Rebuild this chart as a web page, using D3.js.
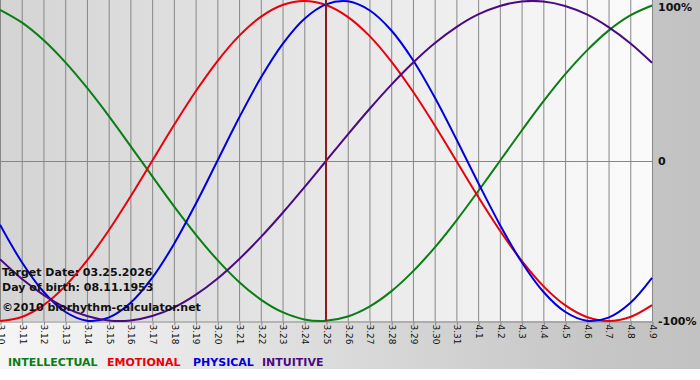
<!DOCTYPE html>
<html><head><meta charset="utf-8">
<script src="https://cdn.jsdelivr.net/npm/d3@7"></script>
<style>html,body{margin:0;padding:0;background:#fff;}svg{display:block;}</style>
</head><body>
<svg id="chart" width="700" height="380"></svg>
<script>
const dayLabels = ["3.10","3.11","3.12","3.13","3.14","3.15","3.16","3.17","3.18","3.19","3.20","3.21","3.22","3.23","3.24","3.25","3.26","3.27","3.28","3.29","3.30","3.31","4.1","4.2","4.3","4.4","4.5","4.6","4.7","4.8","4.9"];
const intellectual = [0.945,0.866,0.756,0.618,0.458,0.282,0.095,-0.095,-0.282,-0.458,-0.618,-0.756,-0.866,-0.945,-0.990,-0.999,-0.972,-0.910,-0.815,-0.690,-0.541,-0.372,-0.189,0,0.189,0.372,0.541,0.690,0.815,0.910,0.972];
const emotional = [-1,-0.975,-0.901,-0.782,-0.623,-0.434,-0.223,0,0.223,0.434,0.623,0.782,0.901,0.975,1,0.975,0.901,0.782,0.623,0.434,0.223,0,-0.223,-0.434,-0.623,-0.782,-0.901,-0.975,-1,-0.975,-0.901];
const physical = [-0.398,-0.631,-0.817,-0.942,-0.998,-0.979,-0.888,-0.731,-0.520,-0.270,0,0.270,0.520,0.731,0.888,0.979,0.998,0.942,0.817,0.631,0.398,0.136,-0.136,-0.398,-0.631,-0.817,-0.942,-0.998,-0.979,-0.888,-0.731];
const intuitive = [-0.614,-0.736,-0.837,-0.916,-0.969,-0.997,-0.997,-0.969,-0.916,-0.837,-0.736,-0.614,-0.476,-0.325,-0.165,0,0.165,0.325,0.476,0.614,0.736,0.837,0.916,0.969,0.997,0.997,0.969,0.916,0.837,0.736,0.614];
const yTickValues = [1,0,-1];
const yTickLabels = ["100%","0","-100%"];
const targetLabel = "3.25";
const infoLines = ["Target Date: 03.25.2026","Day of birth: 08.11.1953","©2010 biorhythm-calculator.net"];
const seriesNames = ["INTELLECTUAL","EMOTIONAL","PHYSICAL","INTUITIVE"];

const colors = {INTELLECTUAL:"#0a7d14", EMOTIONAL:"#e8000b", PHYSICAL:"#0000dc", INTUITIVE:"#4b0a82"};
const series = [
  {name:"INTELLECTUAL", values:intellectual},
  {name:"EMOTIONAL", values:emotional},
  {name:"PHYSICAL", values:physical},
  {name:"INTUITIVE", values:intuitive}
];

const svg = d3.select("#chart");
const W = 700, PW = 652, PT = 0, PB = 321;
const defs = svg.append("defs");
const g1 = defs.append("linearGradient").attr("id","outerG").attr("x1","0").attr("x2","1").attr("y1","0").attr("y2","0");
g1.append("stop").attr("offset","0").attr("stop-color","#f6f6f6");
g1.append("stop").attr("offset","0.85").attr("stop-color","#c6c6c6");
g1.append("stop").attr("offset","1").attr("stop-color","#c2c2c2");
const g2 = defs.append("linearGradient").attr("id","plotG").attr("x1","0").attr("x2","1").attr("y1","0").attr("y2","0");
g2.append("stop").attr("offset","0").attr("stop-color","#d4d4d4");
g2.append("stop").attr("offset","1").attr("stop-color","#fbfbfb");

svg.append("rect").attr("x",0).attr("y",0).attr("width",W).attr("height",369).attr("fill","url(#outerG)");
svg.append("rect").attr("x",0).attr("y",PT).attr("width",PW).attr("height",PB-PT).attr("fill","url(#plotG)");

const x = d3.scalePoint().domain(dayLabels).range([0, PW]);
const y = d3.scaleLinear().domain([-1,1]).range([PB, 1]);

// vertical gridlines
svg.append("g").selectAll("line").data(dayLabels).join("line")
  .attr("x1",d=>x(d)+0.5).attr("x2",d=>x(d)+0.5).attr("y1",PT).attr("y2",PB)
  .attr("stroke","#878787").attr("stroke-width",1);
// zero line
svg.append("line").attr("x1",0).attr("x2",PW).attr("y1",Math.round(y(0))+0.5).attr("y2",Math.round(y(0))+0.5)
  .attr("stroke","#878787").attr("stroke-width",1);

// x axis
const xAxis = d3.axisBottom(x).tickSize(4).tickSizeOuter(0);
const ax = svg.append("g").attr("transform",`translate(0.5,${PB}.5)`).call(xAxis);
ax.select(".domain").attr("stroke","#878787");
ax.selectAll(".tick line").attr("stroke","#878787");
ax.selectAll(".tick text")
  .attr("transform","rotate(90)")
  .attr("x",3).attr("y",0).attr("dy","0.35em")
  .attr("text-anchor","start")
  .attr("font-family","DejaVu Sans, Verdana, sans-serif").attr("font-size","9px")
  .attr("fill","#111");

// y labels
svg.append("g").selectAll("text").data(yTickValues).join("text")
  .attr("x",658)
  .attr("y",(d,i)=> i===0 ? 11 : y(d)+4)
  .attr("font-family","DejaVu Sans, Verdana, sans-serif").attr("font-size","11px").attr("font-weight","bold")
  .attr("fill","#111").text((d,i)=>yTickLabels[i]);

// curves
const line = d3.line().x((d,i)=>x(dayLabels[i])).y(d=>y(d)).curve(d3.curveCatmullRom.alpha(0.5));
svg.append("g").selectAll("path").data(series).join("path")
  .attr("d",d=>line(d.values)).attr("fill","none")
  .attr("stroke",d=>colors[d.name]).attr("stroke-width",2).attr("stroke-linejoin","round");

// target day line
svg.append("line").attr("x1",x(targetLabel)).attr("x2",x(targetLabel)).attr("y1",PT).attr("y2",PB)
  .attr("stroke","#8a1c1c").attr("stroke-width",2);

// info text
svg.append("g").selectAll("text").data(infoLines).join("text")
  .attr("x",2).attr("y",(d,i)=>[276,291,311][i])
  .attr("font-family","DejaVu Sans, Verdana, sans-serif").attr("font-size","11px").attr("font-weight","bold")
  .attr("fill","#111").text(d=>d);

// legend
const legendX = [8,107,193,262];
svg.append("g").selectAll("text").data(seriesNames).join("text")
  .attr("x",(d,i)=>legendX[i]).attr("y",366)
  .attr("font-family","DejaVu Sans, Verdana, sans-serif").attr("font-size","11px").attr("font-weight","bold")
  .attr("fill",d=>colors[d]).text(d=>d);
</script>
</body></html>
